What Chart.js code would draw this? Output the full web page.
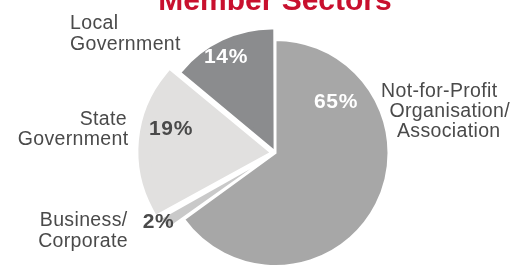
<!DOCTYPE html>
<html>
<head>
<meta charset="utf-8">
<script src="https://cdn.jsdelivr.net/npm/chart.js@4/dist/chart.umd.min.js"></script>
<style>
  html, body { margin: 0; padding: 0; background: #ffffff; }
  #wrap { position: relative; width: 526px; height: 266px; overflow: hidden; }
</style>
</head>
<body>
<div id="wrap"><canvas id="c" width="526" height="266"></canvas></div>
<script>
// ---- data ----
const chartTitle = 'Member Sectors';
const categories = ['Not-for-Profit Organisation/ Association', 'Business/ Corporate', 'State Government', 'Local Government'];
const categoryLines = [['Not-for-Profit', 'Organisation/', 'Association'], ['Business/', 'Corporate'], ['State', 'Government'], ['Local', 'Government']];
const values = [65, 2, 19, 14];

// ---- styles ----
const sliceColors = ['#a7a7a7', '#c9c9c9', '#e1e0df', '#8b8c8e'];
const sliceOffsets = [0, 40, 68, 32];
const sliceBorderWidths = [2, 2, 12, 3];
const sliceBorderColors = ['#ffffff', '#ffffff', '#e1e0df', '#8b8c8e'];
const pctColors = ['#ffffff', '#4a4a4a', '#4a4a4a', '#ffffff'];
// label line positions: [x, baseline, align] per line
const labelPos = [
  [[381, 96.7, 'left'], [389.5, 116.7, 'left'], [397, 136.7, 'left']],
  [[127.5, 225.7, 'right'], [128, 246.7, 'right']],
  [[127, 124.5, 'right'], [128.5, 145.2, 'right']],
  [[70, 29.3, 'left'], [70, 50, 'left']]
];
const pctPos = [
  { x: 336, y: 108.3 },
  { x: 158.5, y: 228 },
  { x: 171, y: 135 },
  { x: 226, y: 63.3 }
];

const textPlugin = {
  id: 'texts',
  afterDraw(chart) {
    const ctx = chart.ctx;
    ctx.save();
    ctx.fillStyle = '#c8102e';
    ctx.font = 'bold 30px "Liberation Sans", Arial, sans-serif';
    ctx.textAlign = 'center';
    ctx.textBaseline = 'alphabetic';
    ctx.fillText(chartTitle, 275, 10);
    ctx.fillStyle = '#4a4a4a';
    ctx.font = '19.5px "Liberation Sans", Arial, sans-serif';
    ctx.letterSpacing = '0.35px';
    categoryLines.forEach((lines, i) => {
      lines.forEach((t, j) => {
        const p = labelPos[i][j];
        ctx.textAlign = p[2];
        ctx.fillText(t, p[0], p[1]);
      });
    });
    ctx.font = 'bold 21px "Liberation Sans", Arial, sans-serif';
    ctx.letterSpacing = '0.6px';
    ctx.textAlign = 'center';
    values.forEach((v, i) => {
      ctx.fillStyle = pctColors[i];
      ctx.fillText(v + '%', pctPos[i].x, pctPos[i].y);
    });
    ctx.restore();
  }
};

new Chart(document.getElementById('c'), {
  type: 'pie',
  data: {
    labels: categories,
    datasets: [{
      data: values,
      backgroundColor: sliceColors,
      borderColor: sliceBorderColors,
      borderWidth: sliceBorderWidths,
      borderJoinStyle: 'miter',
      radius: 113,
      offset: sliceOffsets,
      hoverOffset: 0
    }]
  },
  options: {
    responsive: false,
    devicePixelRatio: 1,
    animation: false,
    layout: { padding: { left: 25, right: 0, top: 40, bottom: 0 } },
    plugins: {
      legend: { display: false },
      tooltip: { enabled: false },
      title: { display: false }
    },
    events: []
  },
  plugins: [textPlugin]
});
</script>
</body>
</html>
